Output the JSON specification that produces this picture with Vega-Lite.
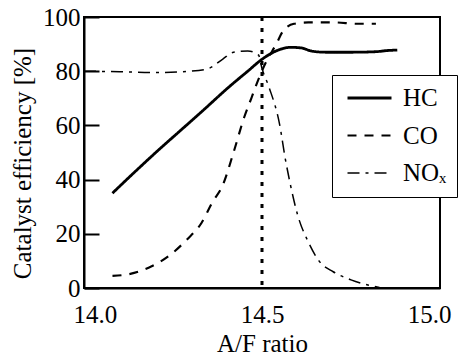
{
  "$schema": "https://vega.github.io/schema/vega-lite/v6.json",
  "width": 356,
  "height": 271,
  "autosize": "none",
  "padding": {"left": 84, "top": 17, "right": 19, "bottom": 67},
  "background": "white",
  "config": {
    "view": {"stroke": "black", "strokeWidth": 2},
    "font": "Liberation Serif",
    "axis": {
      "labelFont": "Liberation Serif",
      "titleFont": "Liberation Serif",
      "labelFontSize": 25,
      "titleFontSize": 25,
      "titleFontWeight": "normal",
      "labelColor": "black",
      "titleColor": "black",
      "grid": false,
      "domainColor": "black",
      "domainWidth": 2,
      "tickColor": "black",
      "tickWidth": 2
    }
  },
  "datasets": {
    "curves": [
      {"series": "HC", "afr": 14.08, "eff": 35},
      {"series": "HC", "afr": 14.14, "eff": 42.5},
      {"series": "HC", "afr": 14.21, "eff": 51},
      {"series": "HC", "afr": 14.27, "eff": 58},
      {"series": "HC", "afr": 14.33, "eff": 65},
      {"series": "HC", "afr": 14.41, "eff": 74.5},
      {"series": "HC", "afr": 14.46, "eff": 80},
      {"series": "HC", "afr": 14.5, "eff": 84.4},
      {"series": "HC", "afr": 14.54, "eff": 87.5},
      {"series": "HC", "afr": 14.58, "eff": 88.8},
      {"series": "HC", "afr": 14.61, "eff": 88.6},
      {"series": "HC", "afr": 14.64, "eff": 87.4},
      {"series": "HC", "afr": 14.68, "eff": 87},
      {"series": "HC", "afr": 14.75, "eff": 87},
      {"series": "HC", "afr": 14.82, "eff": 87.2},
      {"series": "HC", "afr": 14.85, "eff": 87.6},
      {"series": "HC", "afr": 14.88, "eff": 87.8},
      {"series": "CO", "afr": 14.08, "eff": 4.5},
      {"series": "CO", "afr": 14.13, "eff": 5.2},
      {"series": "CO", "afr": 14.19, "eff": 8},
      {"series": "CO", "afr": 14.24, "eff": 12},
      {"series": "CO", "afr": 14.29, "eff": 18},
      {"series": "CO", "afr": 14.33, "eff": 24},
      {"series": "CO", "afr": 14.36, "eff": 31.5},
      {"series": "CO", "afr": 14.39, "eff": 38},
      {"series": "CO", "afr": 14.42, "eff": 50},
      {"series": "CO", "afr": 14.45, "eff": 63},
      {"series": "CO", "afr": 14.47, "eff": 70},
      {"series": "CO", "afr": 14.49, "eff": 77},
      {"series": "CO", "afr": 14.51, "eff": 83},
      {"series": "CO", "afr": 14.54, "eff": 90},
      {"series": "CO", "afr": 14.56, "eff": 95},
      {"series": "CO", "afr": 14.59, "eff": 97.5},
      {"series": "CO", "afr": 14.63, "eff": 98},
      {"series": "CO", "afr": 14.7, "eff": 98},
      {"series": "CO", "afr": 14.77, "eff": 97.5},
      {"series": "CO", "afr": 14.82, "eff": 97.5},
      {"series": "NOₓ", "afr": 14.0, "eff": 80},
      {"series": "NOₓ", "afr": 14.1, "eff": 79.8},
      {"series": "NOₓ", "afr": 14.2, "eff": 79.5},
      {"series": "NOₓ", "afr": 14.3, "eff": 80},
      {"series": "NOₓ", "afr": 14.35, "eff": 81},
      {"series": "NOₓ", "afr": 14.39, "eff": 84.5},
      {"series": "NOₓ", "afr": 14.42, "eff": 87},
      {"series": "NOₓ", "afr": 14.46, "eff": 87.5},
      {"series": "NOₓ", "afr": 14.49, "eff": 86},
      {"series": "NOₓ", "afr": 14.5, "eff": 81},
      {"series": "NOₓ", "afr": 14.52, "eff": 74},
      {"series": "NOₓ", "afr": 14.55, "eff": 60},
      {"series": "NOₓ", "afr": 14.565, "eff": 48},
      {"series": "NOₓ", "afr": 14.58, "eff": 38},
      {"series": "NOₓ", "afr": 14.6, "eff": 27},
      {"series": "NOₓ", "afr": 14.63, "eff": 17},
      {"series": "NOₓ", "afr": 14.66, "eff": 10},
      {"series": "NOₓ", "afr": 14.7, "eff": 6},
      {"series": "NOₓ", "afr": 14.75, "eff": 3},
      {"series": "NOₓ", "afr": 14.8, "eff": 1},
      {"series": "NOₓ", "afr": 14.83, "eff": 0.2}
    ],
    "stoich": [{"afr": 14.5}]
  },
  "layer": [
    {
      "data": {"name": "stoich"},
      "mark": {"type": "rule", "color": "black", "strokeWidth": 3, "strokeDash": [4, 7]},
      "encoding": {
        "x": {"field": "afr", "type": "quantitative", "scale": {"domain": [14, 15]}}
      }
    },
    {
      "data": {"name": "curves"},
      "mark": {"type": "line", "color": "black", "interpolate": "monotone"},
      "encoding": {
        "x": {
          "field": "afr", "type": "quantitative",
          "scale": {"domain": [14, 15], "nice": false},
          "axis": {"values": [14, 14.5, 15], "format": ".1f", "ticks": false, "labelPadding": 14,
                   "labelFlush": true, "labelFlushOffset": 11,
                   "labelFont": "Liberation Serif", "labelFontSize": 25,
                   "title": "A/F ratio", "titleFont": "Liberation Serif", "titleFontSize": 25,
                   "titleY": 63, "titleBaseline": "alphabetic"}
        },
        "y": {
          "field": "eff", "type": "quantitative",
          "scale": {"domain": [0, 100], "nice": false},
          "axis": {"values": [0, 20, 40, 60, 80, 100], "tickSize": -15, "labelPadding": 19,
                   "labelFont": "Liberation Serif", "labelFontSize": 25,
                   "title": "Catalyst efficiency [%]", "titleFont": "Liberation Serif", "titleFontSize": 25,
                   "titleX": -62, "titleY": 146, "titleAngle": 270, "titleAlign": "center", "titleBaseline": "middle"}
        },
        "detail": {"field": "series"},
        "strokeDash": {
          "field": "series", "type": "nominal",
          "scale": {"domain": ["HC", "CO", "NOₓ"], "range": [[1, 0], [9, 8], [12, 6, 3, 6]]},
          "legend": {
            "orient": "none", "legendX": 248, "legendY": 58, "title": null,
            "strokeColor": "black", "fillColor": "white", "padding": 10.5,
            "labelFont": "Liberation Serif", "labelFontSize": 25, "labelColor": "black",
            "symbolType": "stroke", "symbolSize": 1936, "symbolStrokeColor": "black",
            "symbolOffset": 3.5, "clipHeight": 25,
            "labelOffset": 10, "rowPadding": 11.5
          }
        },
        "strokeWidth": {
          "field": "series", "type": "nominal",
          "scale": {"domain": ["HC", "CO", "NOₓ"], "range": [2.8, 1.5, 1.5]}
        }
      }
    }
  ]
}
